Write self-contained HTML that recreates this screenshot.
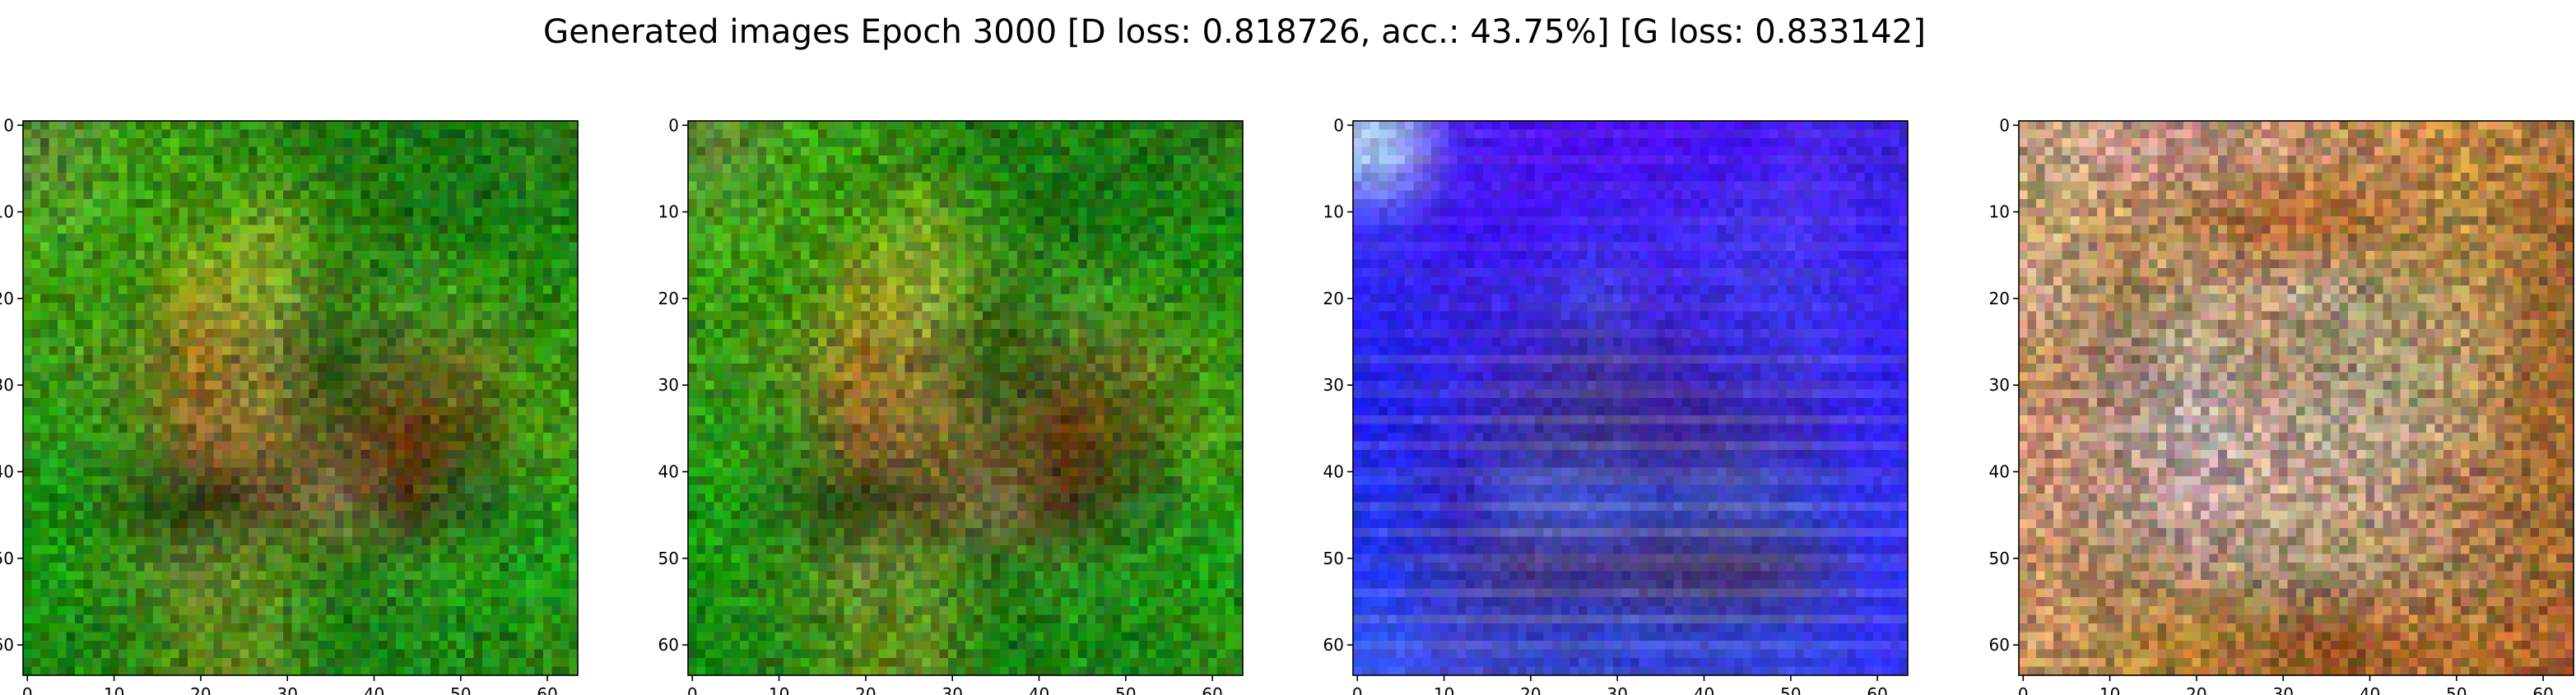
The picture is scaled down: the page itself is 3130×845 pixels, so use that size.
<!DOCTYPE html>
<html><head><meta charset="utf-8">
<style>
html,body{margin:0;padding:0;background:#fff;}
#fig{position:relative;width:3130px;height:845px;overflow:hidden;font-family:"DejaVu Sans","Liberation Sans",sans-serif;}
canvas{position:absolute;image-rendering:pixelated;}
svg{position:absolute;left:0;top:0;}
</style></head>
<body>
<div id="fig">
<canvas id="c0" width="64" height="64" style="left:28px;top:147px;width:674px;height:674px"></canvas>
<canvas id="c1" width="64" height="64" style="left:836px;top:147px;width:674px;height:674px"></canvas>
<canvas id="c2" width="64" height="64" style="left:1644px;top:147px;width:674px;height:674px"></canvas>
<canvas id="c3" width="64" height="64" style="left:2453px;top:147px;width:674px;height:674px"></canvas>
<svg id="ov" width="3130" height="845">
<text x="1500" y="52" text-anchor="middle" font-size="40" textLength="1680" lengthAdjust="spacingAndGlyphs" fill="#000">Generated images Epoch 3000 [D loss: 0.818726, acc.: 43.75%] [G loss: 0.833142]</text>
</svg>
</div>
<script>
const panelLefts = [28, 836, 1644, 2453];
const tickValues = [0, 10, 20, 30, 40, 50, 60];
const tickLabels = ["0", "10", "20", "30", "40", "50", "60"];
const imageSize = 64;
const gridGreenA = [
["#5a7a30","#3f8f15","#3a8a10","#2f7a10","#1f6a10","#1f6f10","#1a6a10","#2a6a15"],
["#4a9a20","#3f9010","#4a8a10","#7a9a20","#2f7a10","#1a6010","#1a6a10","#1a7a10"],
["#3a8a10","#3a8a10","#9a8a20","#8a9a30","#3a6a15","#3a8a20","#3a8a15","#2a7a10"],
["#3a8a15","#5a7a20","#9a6a20","#7a6a30","#2a4a10","#5a5a20","#6a6a20","#3a8a10"],
["#2a8a15","#3a7a15","#9a5a30","#8a6a30","#5a4a20","#6a2a10","#4a4a10","#4a8a15"],
["#1a8a10","#2a5a15","#2a3010","#5a4020","#7a6040","#4a2a10","#2a5a20","#2a8a15"],
["#1a8a10","#3a7a15","#6a7a30","#5a8a20","#2a6a15","#2a7a20","#2a8a15","#1a8a15"],
["#1a7a10","#2a7a15","#5a7a15","#5a7a20","#1a7010","#1a7a15","#1a7a15","#2a7a15"]];
const gridGreenB = [
["#5a7a30","#3f8f15","#3a8a10","#2f7a10","#1f6a10","#1f6f10","#1a6a10","#2a6a15"],
["#4a9a20","#3f9010","#4a8a10","#7a9a20","#2f7a10","#1a6010","#1a6a10","#1a7a10"],
["#3a8a10","#3a8a10","#9a8a20","#8a9a30","#3a6a15","#3a8a20","#3a8a15","#2a7a10"],
["#3a8a15","#5a7a20","#9a6a20","#7a6a30","#2a4a10","#5a5a20","#6a6a20","#3a8a10"],
["#2a8a15","#3a7a15","#9a5a30","#8a6a30","#5a4a20","#6a2a10","#4a4a10","#4a8a15"],
["#1a8a10","#2a5a15","#2a3010","#5a4020","#7a6040","#4a2a10","#2a5a20","#2a8a15"],
["#1a8a10","#3a7a15","#6a7a30","#5a8a20","#2a6a15","#2a7a20","#2a8a15","#1a8a15"],
["#1a7a10","#2a7a15","#5a7a15","#5a7a20","#1a7010","#1a7a15","#1a7a15","#2a7a15"]];
const gridBlue = [
["#a0c0f0","#4a20f0","#4a10f0","#4a10f0","#4a10f0","#4010f0","#4a20f0","#3a20e0"],
["#3a30f0","#3a10f0","#4010f0","#3a20f0","#4020f0","#4030f0","#4a30f0","#3a20f0"],
["#2a20f0","#3a20e8","#3a20e0","#4040e0","#4020e0","#3a30e8","#3a30e8","#3a20f0"],
["#2020e8","#3020e0","#3a20c0","#3a30a0","#3a20b0","#3020d0","#3a30e0","#3020f0"],
["#2020e8","#3020d0","#3a30a0","#3a3090","#3a2090","#3a2aa0","#3a20c0","#3020f0"],
["#2030e8","#3020c0","#4050d0","#4050d0","#3040c0","#4050c0","#3040d0","#3030f0"],
["#2030e8","#3030b0","#403080","#3a3090","#403070","#403070","#3a3090","#3030f0"],
["#3050f0","#4040d0","#3040c8","#3040d0","#3040d0","#3040d0","#3040e0","#3030f0"]];
const gridTan = [
["#c0a080","#d0a090","#c09080","#c09070","#c09060","#c08a50","#c08a40","#b07a40"],
["#c0a070","#c09060","#b08050","#b06a30","#b06a30","#b08040","#b08a40","#a06a30"],
["#c09a80","#a08050","#b09070","#c0a080","#b0a080","#a09060","#b09050","#a06a30"],
["#c09060","#a08070","#b0a090","#b09070","#a09070","#a09a70","#b09060","#a06a30"],
["#c09070","#b09080","#c0b0b0","#c0a090","#b0a090","#b09a80","#b09060","#a06a30"],
["#c09070","#b09080","#c0a0a0","#c0a090","#c0a080","#b09070","#b07a50","#a06a30"],
["#c09060","#a08060","#b09070","#a09070","#a09070","#b08a60","#a07a50","#a06a30"],
["#c09060","#b08a40","#b07a30","#a06a30","#905020","#b06a30","#b07030","#b06030"]];
const panelGrids = [gridGreenA, gridGreenB, gridBlue, gridTan];

function hex(c){return [parseInt(c.substr(1,2),16),parseInt(c.substr(3,2),16),parseInt(c.substr(5,2),16)];}
function sample(g, r, c){
  const gy = Math.min(Math.max((r + 0.5) / 8 - 0.5, 0), 7), gx = Math.min(Math.max((c + 0.5) / 8 - 0.5, 0), 7);
  const y0 = Math.floor(gy), x0 = Math.floor(gx), y1 = Math.min(y0 + 1, 7), x1 = Math.min(x0 + 1, 7);
  const fy = gy - y0, fx = gx - x0;
  const a = hex(g[y0][x0]), b = hex(g[y0][x1]), cc = hex(g[y1][x0]), d = hex(g[y1][x1]);
  return [0,1,2].map(i => a[i]*(1-fx)*(1-fy) + b[i]*fx*(1-fy) + cc[i]*(1-fx)*fy + d[i]*fx*fy);
}
function texture(p, r, c, ch){
  const t = Math.sin(r*12.9898 + c*78.233 + ch*37.719 + p*3.1) * 43758.5453;
  return (t - Math.floor(t)) - 0.5;
}
panelGrids.forEach((g, p) => {
  const cv = document.getElementById('c' + p);
  const ctx = cv.getContext('2d');
  const img = ctx.createImageData(imageSize, imageSize);
  for (let r = 0; r < imageSize; r++) for (let c = 0; c < imageSize; c++) {
    const base = sample(g, r, c);
    const stripe = p === 2 ? Math.max(0, Math.sin(r * 1.9)) * 30 * (r > 24 ? 1 : 0.4) : 0;
    const amp = p === 2 ? 30 : 60;
    const lum = texture(p, r, c, 5) * amp;
    const k = (r * imageSize + c) * 4;
    for (let ch = 0; ch < 3; ch++) {
      let v = base[ch] * (1 + lum / 120) + texture(p, r, c, ch) * amp * 0.6 + (p === 2 && ch < 2 ? stripe : 0);
      if (p < 2 && ch === 1) v += 12;
      img.data[k + ch] = Math.max(0, Math.min(255, v));
    }
    img.data[k + 3] = 255;
  }
  ctx.putImageData(img, 0, 0);
});

const NS = 'http://www.w3.org/2000/svg';
const ov = document.getElementById('ov');
const top0 = 147, size = 674, cell = size / imageSize;
function xScale(left, v){ return left + (v + 0.5) * cell; }
function yScale(v){ return top0 + (v + 0.5) * cell; }
function mk(tag, attrs){ const e = document.createElementNS(NS, tag); for (const k in attrs) e.setAttribute(k, attrs[k]); ov.appendChild(e); return e; }
panelLefts.forEach((left, p) => {
  const frame = mk('rect', {x: left, y: top0, width: size, height: size, fill: 'none', stroke: '#000', 'stroke-width': 1.6});
  
  
  tickValues.forEach((v, i) => {
    const x = xScale(left, v);
    const tx = mk('line', {x1: x, x2: x, y1: top0 + size, y2: top0 + size + 7, stroke: '#000', 'stroke-width': 1.6});
    
    
    const lx = mk('text', {x: x, y: top0 + size + 30, 'text-anchor': 'middle', 'font-size': 20, fill: '#000'});
    lx.textContent = tickLabels[i];
    
    
    const y = yScale(v);
    const ty = mk('line', {x1: left - 7, x2: left, y1: y, y2: y, stroke: '#000', 'stroke-width': 1.6});
    
    
    const ly = mk('text', {x: left - 11, y: y + 7, 'text-anchor': 'end', 'font-size': 20, fill: '#000'});
    ly.textContent = tickLabels[i];
    
    
  });
});
</script>
</body></html>
